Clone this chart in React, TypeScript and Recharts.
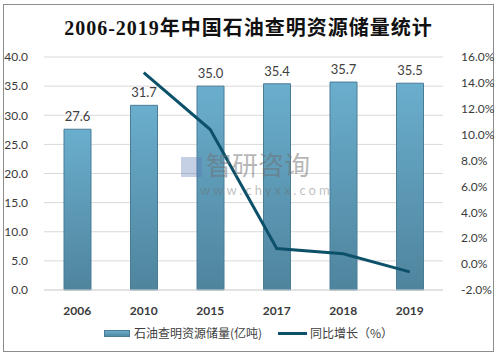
import React from "react";
import {
  ComposedChart,
  Bar,
  Line,
  XAxis,
  YAxis,
  CartesianGrid,
  LabelList,
} from "recharts";

const years = ["2006", "2010", "2015", "2017", "2018", "2019"];
const reserves = [27.6, 31.7, 35.0, 35.4, 35.7, 35.5];
const growth: (number | null)[] = [null, 14.8, 10.4, 1.2, 0.8, -0.6];
const leftTicks = [0, 5, 10, 15, 20, 25, 30, 35, 40];
const rightTicks = [-2, 0, 2, 4, 6, 8, 10, 12, 14, 16];
const barName = "石油查明资源储量(亿吨)";
const lineName = "同比增长（%）";
const title = "2006-2019年中国石油查明资源储量统计";

const data = years.map((y, i) => ({ year: y, reserves: reserves[i], growth: growth[i] }));

const tickFont = { fontSize: 12, fill: "#3a3a3a", fontFamily: "Lato, 'Noto Sans CJK SC', sans-serif" };

const LegendBox = () => (
  <div
    style={{
      position: "absolute",
      left: 0,
      top: 324,
      width: 497,
      display: "flex",
      justifyContent: "center",
      alignItems: "center",
      fontSize: 12,
      lineHeight: "18px",
      color: "#404040",
      fontFamily: "'Noto Sans CJK SC', sans-serif",
    }}
  >
    <span
      style={{
        display: "inline-block",
        width: 26,
        height: 7,
        background: "linear-gradient(#6aadcb, #4f8aa5)",
        border: "1px solid #4a7c96",
        boxSizing: "border-box",
        marginRight: 4,
      }}
    />
    <span style={{ marginRight: 16 }}>{barName}</span>
    <span style={{ display: "inline-block", width: 29, height: 3, background: "#0c5169", marginRight: 3 }} />
    <span>{lineName}</span>
  </div>
);

export default function App() {
  return (
    <div style={{ position: "absolute", left: 0, top: 0, width: 497, height: 359, background: "#fff" }}>
      <div
        style={{
          position: "absolute",
          left: 3,
          top: 4,
          width: 489,
          height: 346,
          border: "1px solid #8c8c8c",
        }}
      />
      <div
        style={{
          position: "absolute",
          left: 0,
          top: 16,
          width: 497,
          textAlign: "center",
          fontSize: 20,
          fontWeight: "bold",
          letterSpacing: 1,
          fontFamily: "'Liberation Serif', 'Noto Sans CJK SC', serif",
          color: "#111",
          lineHeight: "24px",
        }}
      >
        {title}
      </div>
      <div style={{ position: "absolute", left: 0, top: 0 }}>
        <ComposedChart
          width={497}
          height={359}
          data={data}
          margin={{ top: 57, right: 0, bottom: 39, left: 0 }}
        >
          <defs>
            <linearGradient id="barGrad" x1="0" y1="0" x2="0" y2="1">
              <stop offset="0%" stopColor="#6aaecd" />
              <stop offset="100%" stopColor="#4f849d" />
            </linearGradient>
          </defs>
          <CartesianGrid vertical={false} stroke="#d9d9d9" yAxisId="left" />
          <XAxis
            dataKey="year"
            tickLine={false}
            axisLine={{ stroke: "#d9d9d9" }}
            tick={{ ...tickFont, fontWeight: "bold" }}
            height={30}
            tickMargin={10}
          />
          <YAxis
            yAxisId="left"
            domain={[0, 40]}
            ticks={leftTicks}
            tickFormatter={(v: number) => v.toFixed(1)}
            axisLine={false}
            tickLine={false}
            width={44}
            tick={tickFont}
            tickMargin={10}
          />
          <YAxis
            yAxisId="right"
            orientation="right"
            domain={[-2, 16]}
            ticks={rightTicks}
            tickFormatter={(v: number) => `${v.toFixed(1)}%`}
            axisLine={false}
            tickLine={false}
            width={54}
            tick={{ ...tickFont, textAnchor: "start" }}
            tickMargin={12}
          />
          <Bar
            yAxisId="left"
            dataKey="reserves"
            name={barName}
            fill="url(#barGrad)"
            stroke="#4a7c96"
            strokeWidth={1}
            barSize={27}
            isAnimationActive={false}
          >
            <LabelList
              dataKey="reserves"
              position="top"
              offset={8}
              formatter={(v: number) => v.toFixed(1)}
              style={{ fontSize: 13, fill: "#404040", fontFamily: "Lato, sans-serif" }}
            />
          </Bar>
          <Line
            yAxisId="right"
            dataKey="growth"
            name={lineName}
            stroke="#0c5169"
            strokeWidth={3}
            dot={false}
            connectNulls
            isAnimationActive={false}
          />
        </ComposedChart>
      </div>
      <div
        style={{
          position: "absolute",
          left: 206,
          top: 149,
          color: "rgba(110,110,110,0.5)",
          fontFamily: "'Noto Sans CJK SC', sans-serif",
          fontSize: 26,
          lineHeight: "30px",
          pointerEvents: "none",
        }}
      >
        智研咨询
      </div>
      <div
        style={{
          position: "absolute",
          left: 200,
          top: 183,
          color: "rgba(110,110,110,0.45)",
          fontFamily: "Lato, sans-serif",
          fontSize: 13,
          letterSpacing: 3,
          lineHeight: "14px",
          pointerEvents: "none",
        }}
      >
        www.chyxx.com
      </div>
      <div
        style={{
          position: "absolute",
          left: 181,
          top: 157,
          width: 21,
          height: 20,
          background: "rgba(90,120,180,0.35)",
          pointerEvents: "none",
        }}
      />
      <LegendBox />
    </div>
  );
}
